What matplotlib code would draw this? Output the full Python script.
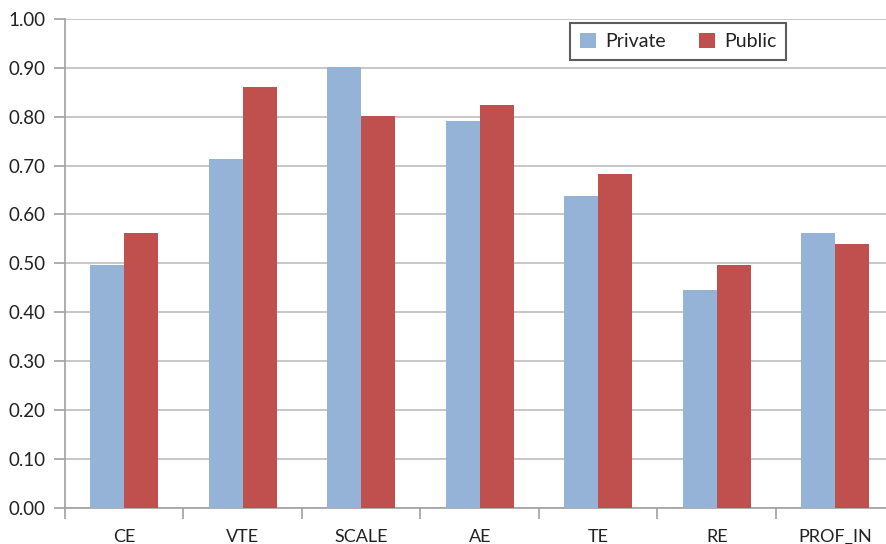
import matplotlib
matplotlib.use("Agg")
import matplotlib.pyplot as plt
import numpy as np

categories = ["CE", "VTE", "SCALE", "AE", "TE", "RE", "PROF_IN"]
private = [0.497, 0.713, 0.901, 0.791, 0.638, 0.446, 0.562]
public = [0.562, 0.861, 0.801, 0.824, 0.683, 0.497, 0.540]
y_ticks = [0.0, 0.1, 0.2, 0.3, 0.4, 0.5, 0.6, 0.7, 0.8, 0.9, 1.0]

plt.rcParams["font.family"] = ["Lato", "DejaVu Sans"]

W, H = 887, 544
fig = plt.figure(figsize=(W / 100, H / 100), dpi=100)
left, right, bottom, top = 65, 894.5, 507.7, 19
ax = fig.add_axes([left / W, 1 - bottom / H, (right - left) / W, (bottom - top) / H])

x = np.arange(len(categories))
w = 0.287
ax.bar(x - w / 2, private, width=w, color="#95B3D7", label="Private", zorder=3)
ax.bar(x + w / 2, public, width=w, color="#C0504D", label="Public", zorder=3)

ax.set_xlim(-0.5, len(categories) - 0.5)
ax.set_ylim(0, 1.0)
ax.set_yticks(y_ticks)
ax.set_yticklabels([f"{v:.2f}" for v in y_ticks], fontsize=13.5, color="#222222")
ax.yaxis.grid(True, color="#BEBEBE", linewidth=1.2, zorder=0)

# category boundaries carry the tick marks, labels sit at the centres
ax.set_xticks(np.arange(-0.5, len(categories), 1.0))
ax.set_xticklabels([])
ax.set_xticks(x, minor=True)
ax.set_xticklabels(categories, minor=True, fontsize=13, color="#222222")
ax.tick_params(axis="x", which="minor", length=0, pad=15)
ax.tick_params(axis="x", which="major", length=8, width=1.2, color="#A0A0A0", direction="out")
ax.tick_params(axis="y", length=8, width=1.2, color="#A0A0A0", pad=6)

for s in ["top", "right"]:
    ax.spines[s].set_visible(False)
for s in ["left", "bottom"]:
    ax.spines[s].set_color("#A0A0A0")
    ax.spines[s].set_linewidth(1.2)

leg = ax.legend(loc="upper left", bbox_to_anchor=((570 - left) / (right - left), 1 - (23 - top) / (bottom - top)),
                ncol=2, frameon=True, fancybox=False, fontsize=14, handlelength=0.85, handleheight=0.85,
                columnspacing=1.7, handletextpad=0.45, borderpad=0.5, borderaxespad=0)
leg.get_frame().set_edgecolor("#333333")
leg.get_frame().set_linewidth(1.5)
for t in leg.get_texts():
    t.set_color("#222222")

fig.savefig("out.png", dpi=100)
